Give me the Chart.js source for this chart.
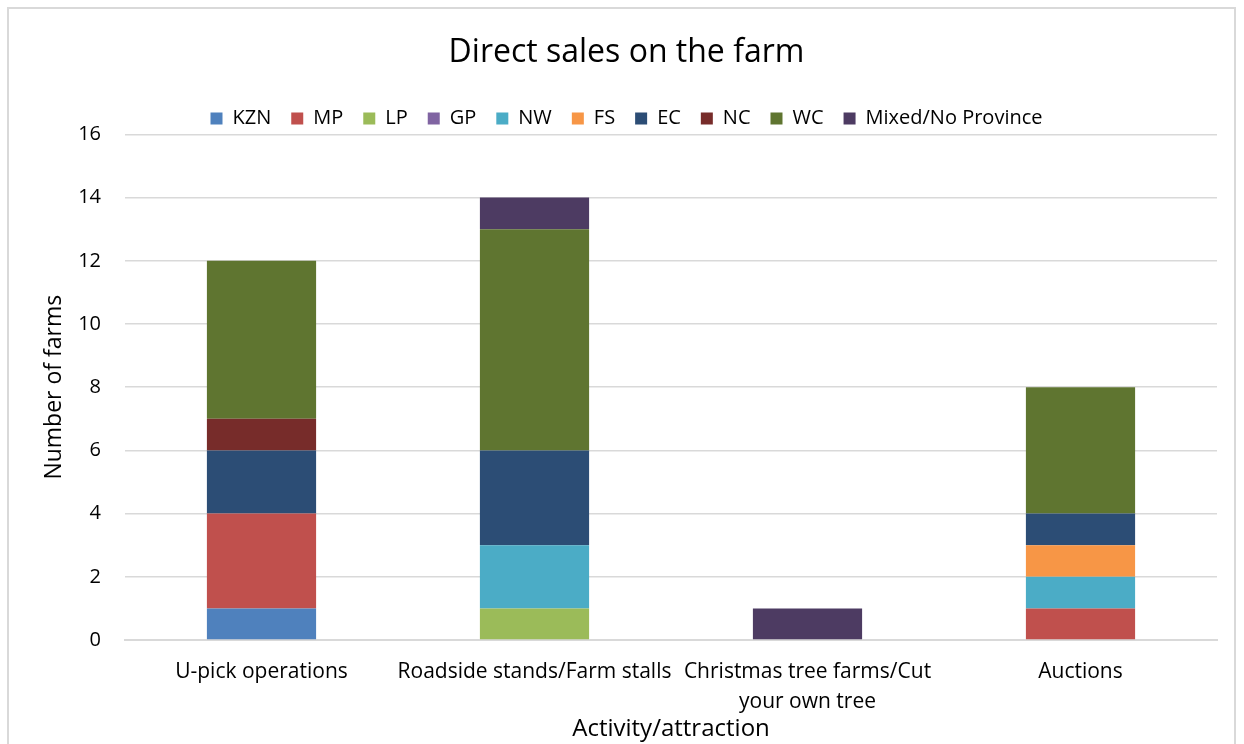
<!DOCTYPE html>
<html>
<head>
<meta charset="utf-8">
<script src="https://cdn.jsdelivr.net/npm/chart.js@4.4.1/dist/chart.umd.min.js"></script>
<style>
  html, body { margin: 0; padding: 0; background: #fff; }
  #wrap { position: relative; width: 1244px; height: 744px; overflow: hidden; }
  #frame { position: absolute; left: 7px; top: 7px; width: 1229px; height: 800px;
           border: 2px solid #d9d9d9; box-sizing: border-box; }
  canvas { position: absolute; left: 0; top: 0; }
</style>
</head>
<body>
<div id="wrap">
  <div id="frame"></div>
  <canvas id="c" width="1244" height="744"></canvas>
</div>
<script>
// Activities (x categories)
const categories = [
  'U-pick operations',
  'Roadside stands/Farm stalls',
  ['Christmas tree farms/Cut', 'your own tree'],
  'Auctions'
];

// Number of farms per province, per activity
const KZN   = [1, 0, 0, 0];
const MP    = [3, 0, 0, 1];
const LP    = [0, 1, 0, 0];
const GP    = [0, 0, 0, 0];
const NW    = [0, 2, 0, 1];
const FS    = [0, 0, 0, 1];
const EC    = [2, 3, 0, 1];
const NC    = [1, 0, 0, 0];
const WC    = [5, 7, 0, 4];
const Mixed = [0, 1, 1, 0];

const yTicks = [0, 2, 4, 6, 8, 10, 12, 14, 16];

const FONT = "'Open Sans', 'Noto Sans', sans-serif";

const series = [
  ['KZN', KZN, '#4F81BD'],
  ['MP', MP, '#C0504D'],
  ['LP', LP, '#9BBB59'],
  ['GP', GP, '#8064A2'],
  ['NW', NW, '#4BACC6'],
  ['FS', FS, '#F79646'],
  ['EC', EC, '#2C4D75'],
  ['NC', NC, '#772C2A'],
  ['WC', WC, '#5F7530'],
  ['Mixed/No Province', Mixed, '#4D3B62']
];

const chart = new Chart(document.getElementById('c'), {
  type: 'bar',
  data: {
    labels: categories,
    datasets: series.map(([label, data, color]) => ({
      label, data,
      backgroundColor: color,
      borderWidth: 0,
      barPercentage: 0.4,
      categoryPercentage: 1.0
    }))
  },
  options: {
    responsive: false,
    animation: false,
    layout: { padding: { left: 36, right: 27, top: 0, bottom: 0 } },
    plugins: {
      title: {
        display: true,
        text: 'Direct sales on the farm',
        color: '#000',
        font: { family: FONT, size: 32, weight: 'normal' },
        padding: { top: 34, bottom: 16 }
      },
      legend: {
        position: 'top',
        labels: {
          color: '#000',
          font: { family: FONT, size: 20 },
          boxWidth: 12,
          boxHeight: 12,
          padding: 20
        }
      },
      tooltip: { enabled: false }
    },
    scales: {
      x: {
        stacked: true,
        grid: { display: false, drawTicks: false },
        border: { color: '#d9d9d9', width: 2 },
        ticks: {
          color: '#000',
          font: { family: FONT, size: 21, lineHeight: 1.43 },
          padding: 17,
          maxRotation: 0,
          autoSkip: false
        },
        title: {
          display: true,
          text: 'Activity/attraction',
          color: '#000',
          font: { family: FONT, size: 24 },
          padding: { top: 2, bottom: 0 }
        },
        afterFit: (s) => { s.height = 104; }
      },
      y: {
        stacked: true,
        min: 0,
        max: 16,
        afterBuildTicks: (s) => { s.ticks = yTicks.map(v => ({ value: v })); },
        grid: { color: '#d9d9d9', lineWidth: 1.5, drawTicks: false },
        border: { display: false },
        ticks: {
          color: '#000',
          font: { family: FONT, size: 20 },
          padding: 24
        },
        title: {
          display: true,
          text: 'Number of farms',
          color: '#000',
          font: { family: FONT, size: 23 },
          padding: { top: 5, bottom: 0 }
        },
        afterFit: (s) => { s.width = 89; }
      }
    }
  }
});

// Keep the legend band compact while leaving wide gaps between items
const legendFit = chart.legend.fit.bind(chart.legend);
chart.legend.fit = function () {
  legendFit();
  this.height = 46;
};
chart.update();
</script>
</body>
</html>
